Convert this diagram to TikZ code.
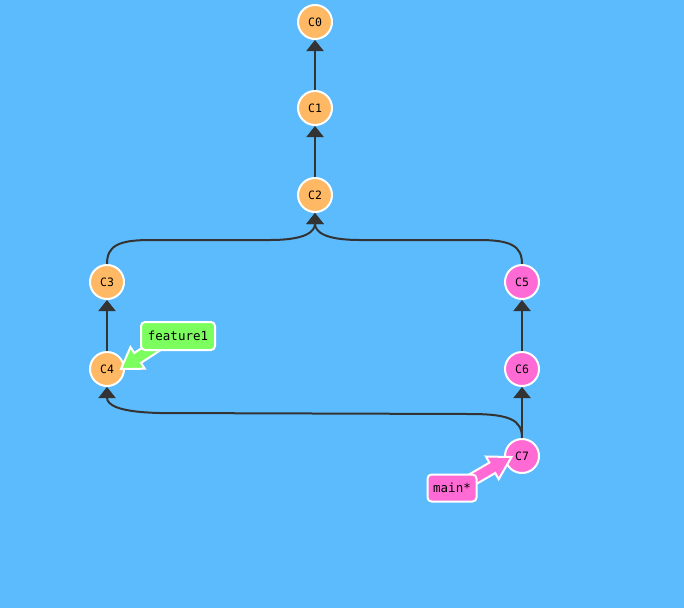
\documentclass[tikz,border=0pt]{standalone}
\usepackage{fontspec}
\newfontfamily\monof{DejaVu Sans Mono}
\usetikzlibrary{arrows.meta}
\definecolor{bg}{RGB}{92,187,252}
\definecolor{corange}{RGB}{255,184,99}
\definecolor{cpink}{RGB}{255,106,213}
\definecolor{cgreen}{RGB}{124,255,94}
\definecolor{edge}{RGB}{51,51,51}
\tikzset{
  commit/.style={circle, draw=white, line width=2pt, minimum size=34pt, inner sep=0pt, font=\monof\fontsize{11.5}{13}\selectfont},
  orangec/.style={commit, fill=corange},
  pinkc/.style={commit, fill=cpink},
  parentlink/.style={draw=edge, line width=2pt, -{Triangle[length=11pt,width=17pt]}},
  branchlabel/.style={draw=white, line width=2pt, rounded corners=4pt, inner sep=0pt, font=\monof\fontsize{12.5}{14}\selectfont, text=black},
  fatarrow/.style={draw=white, line width=2pt, line join=miter},
}
\begin{document}
\begin{tikzpicture}[x=1pt,y=-1pt]
\fill[bg] (0,0) rectangle (684,608);
\useasboundingbox (0,0) rectangle (684,608);
\node[orangec] (C0) at (315,22) {C0};
\node[orangec] (C1) at (315,108) {C1};
\node[orangec] (C2) at (315,195) {C2};
\node[orangec] (C3) at (107,282) {C3};
\node[orangec] (C4) at (107,369) {C4};
\node[pinkc] (C5) at (522,282) {C5};
\node[pinkc] (C6) at (522,369) {C6};
\node[pinkc] (C7) at (522,456) {C7};
\draw[parentlink] (C1.north) -- (C0.south);
\draw[parentlink] (C2.north) -- (C1.south);
\draw[parentlink] (C4.north) -- (C3.south);
\draw[parentlink] (C6.north) -- (C5.south);
\draw[parentlink] (C7.north) -- (C6.south);
\draw[parentlink] (C3.north) .. controls (107,246) and (118,240) .. (150,240) -- (270,240) .. controls (305,240) and (315,232) .. (C2.south);
\draw[parentlink] (C5.north) .. controls (522,246) and (511,240) .. (479,240) -- (360,240) .. controls (325,240) and (315,232) .. (C2.south);
\draw[parentlink] (C7.north) .. controls (522,420) and (510,414) .. (470,414) -- (160,413) .. controls (118,412) and (107,405) .. (C4.south);
% feature1 pointer
\coordinate (ft) at (121,369);
\draw[fatarrow, fill=cgreen] (ft) -- (144.8,368.7) -- (141.0,362.9) -- (165.3,347.0) -- (158.7,337.0) -- (134.3,352.9) -- (130.4,347.1) -- cycle;
\node[branchlabel, fill=cgreen, minimum width=74pt, minimum height=28pt] (feature1) at (178,336) {feature1};
% main pointer
\coordinate (mt) at (511.5,457);
\draw[fatarrow, fill=cpink] (mt) -- (498.7,479.1) -- (495.2,473.0) -- (470.9,487.2) -- (465.1,476.8) -- (489.4,462.6) -- (485.9,456.5) -- cycle;
\node[branchlabel, fill=cpink, minimum width=49pt, minimum height=27pt] (main) at (452,488) {main*};
\end{tikzpicture}
\end{document}
